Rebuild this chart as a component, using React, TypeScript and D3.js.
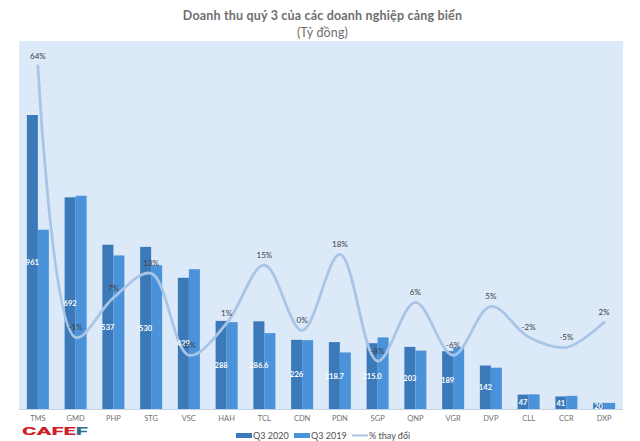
import React, { useEffect, useRef } from 'react';
import * as d3 from 'd3';

const categories = ['TMS', 'GMD', 'PHP', 'STG', 'VSC', 'HAH', 'TCL', 'CDN', 'PDN', 'SGP', 'QNP', 'VGR', 'DVP', 'CLL', 'CCR', 'DXP'];
const q3_2020 = [961, 692, 537, 530, 429, 288, 286.6, 226, 218.7, 215, 203, 189, 142, 47, 41, 20];
const q3_2019 = [586, 697, 502, 470, 457, 284, 248, 225, 185, 234, 191, 201, 135, 48, 43, 20];
const q3_2020_labels = ['961', '692', '537', '530', '429', '288', '286.6', '226', '218.7', '215.0', '203', '189', '142', '47', '41', '20'];
const pctChange = [64, -1.7, 7.9, 13.8, -6, 1.7, 15.8, 0, 18.4, -7.4, 6.8, -6, 5.8, -1.6, -4.1, 2];
const pctLabels = ['64%', '-1%', '7%', '13%', '-6%', '1%', '15%', '0%', '18%', '-8%', '6%', '-6%', '5%', '-2%', '-5%', '2%'];

const FONT = 'Lato, "Noto Sans", sans-serif';
const DARK = '#3c79b8';
const LIGHT = '#4a93db';
const LINE = '#a9c5e6';

const App: React.FC = () => {
  const svgRef = useRef<SVGSVGElement | null>(null);

  useEffect(() => {
    if (!svgRef.current) return;
    const svg = d3.select(svgRef.current);
    svg.selectAll('*').remove();

    const left = 19, right = 623, top = 41, bottom = 409;

    const x = d3.scaleBand<string>().domain(categories).range([left, right]).paddingInner(0.417).paddingOuter(0.2085);
    const inner = d3.scaleBand<string>().domain(['a', 'b']).range([0, x.bandwidth()]);
    const y = d3.scaleLinear().domain([0, 1203]).range([bottom, top]);
    const yPct = d3.scaleLinear().domain([-19, 70]).range([bottom, top]);
    const cx = (c: string) => (x(c) as number) + x.bandwidth() / 2;

    // background
    svg.append('rect').attr('x', left).attr('y', top).attr('width', right - left).attr('height', bottom - top).attr('fill', '#dbe9f9');

    // title
    svg.append('text').attr('x', 322.5).attr('y', 20).attr('text-anchor', 'middle')
      .attr('font-family', FONT).attr('font-size', 12.5).attr('font-weight', 700).attr('fill', '#6e6e6e')
      .attr('letter-spacing', 0.18).text('Doanh thu quý 3 của các doanh nghiệp cảng biển');
    svg.append('text').attr('x', 322.5).attr('y', 37).attr('text-anchor', 'middle')
      .attr('font-family', FONT).attr('font-size', 12.5).attr('fill', '#6e6e6e')
      .attr('letter-spacing', 0.15).text('(Tỷ đồng)');

    // bars
    svg.append('g').selectAll('rect').data(categories).enter().append('rect')
      .attr('x', d => (x(d) as number) + (inner('a') as number))
      .attr('width', inner.bandwidth())
      .attr('y', (_, i) => y(q3_2020[i]))
      .attr('height', (_, i) => bottom - y(q3_2020[i]))
      .attr('fill', DARK);
    svg.append('g').selectAll('rect').data(categories).enter().append('rect')
      .attr('x', d => (x(d) as number) + (inner('b') as number))
      .attr('width', inner.bandwidth())
      .attr('y', (_, i) => y(q3_2019[i]))
      .attr('height', (_, i) => bottom - y(q3_2019[i]))
      .attr('fill', LIGHT);

    // axis
    svg.append('line').attr('x1', left).attr('x2', right).attr('y1', bottom + 0.5).attr('y2', bottom + 0.5).attr('stroke', '#c3d3e6');
    svg.append('g').selectAll('text').data(categories).enter().append('text')
      .attr('x', d => cx(d)).attr('y', 421).attr('text-anchor', 'middle')
      .attr('font-family', FONT).attr('font-size', 7.5).attr('fill', '#707070').text(d => d);

    // % line
    const lineGen = d3.line<number>()
      .x((_, i) => cx(categories[i]))
      .y(d => yPct(d))
      .curve(d3.curveCatmullRom.alpha(0.5));
    svg.append('path').datum(pctChange).attr('d', lineGen)
      .attr('fill', 'none').attr('stroke', LINE).attr('stroke-width', 2.8).attr('stroke-linecap', 'round');

    // bar value labels
    svg.append('g').selectAll('text').data(categories).enter().append('text')
      .attr('x', d => (x(d) as number) + (inner('a') as number) + inner.bandwidth() / 2)
      .attr('y', (_, i) => (y(q3_2020[i]) + bottom) / 2 + 3)
      .attr('text-anchor', 'middle')
      .attr('font-family', FONT).attr('font-size', 7.5).attr('font-weight', 700).attr('fill', '#ffffff')
      .text((_, i) => q3_2020_labels[i]);

    // % labels
    svg.append('g').selectAll('text').data(categories).enter().append('text')
      .attr('x', d => cx(d))
      .attr('y', (_, i) => yPct(pctChange[i]) - 7)
      .attr('text-anchor', 'middle')
      .attr('font-family', FONT).attr('font-size', 8).attr('fill', '#404040')
      .text((_, i) => pctLabels[i]);

    // legend
    const legend = svg.append('g').attr('font-family', FONT).attr('font-size', 9).attr('fill', '#505050');
    legend.append('rect').attr('x', 236).attr('y', 433).attr('width', 16).attr('height', 5).attr('fill', DARK);
    legend.append('text').attr('x', 253).attr('y', 438.5).text('Q3 2020');
    legend.append('rect').attr('x', 294).attr('y', 433).attr('width', 16).attr('height', 5).attr('fill', LIGHT);
    legend.append('text').attr('x', 311).attr('y', 438.5).text('Q3 2019');
    legend.append('line').attr('x1', 352).attr('x2', 368).attr('y1', 435.5).attr('y2', 435.5).attr('stroke', LINE).attr('stroke-width', 2);
    legend.append('text').attr('x', 369).attr('y', 438.5).text('% thay đổi');

    // logo
    const logo = svg.append('text').attr('transform', 'translate(22,435) scale(2.2,1)')
      .attr('font-family', 'Roboto, sans-serif').attr('font-size', 10).attr('font-weight', 900);
    logo.append('tspan').attr('fill', '#cc2127').text('CAFE');
    logo.append('tspan').attr('fill', '#2f6d8e').text('F');
  }, []);

  return (
    <svg
      ref={svgRef}
      width={640}
      height={441}
      style={{ position: 'absolute', left: 0, top: 0, background: '#ffffff' }}
    />
  );
};

export default App;
